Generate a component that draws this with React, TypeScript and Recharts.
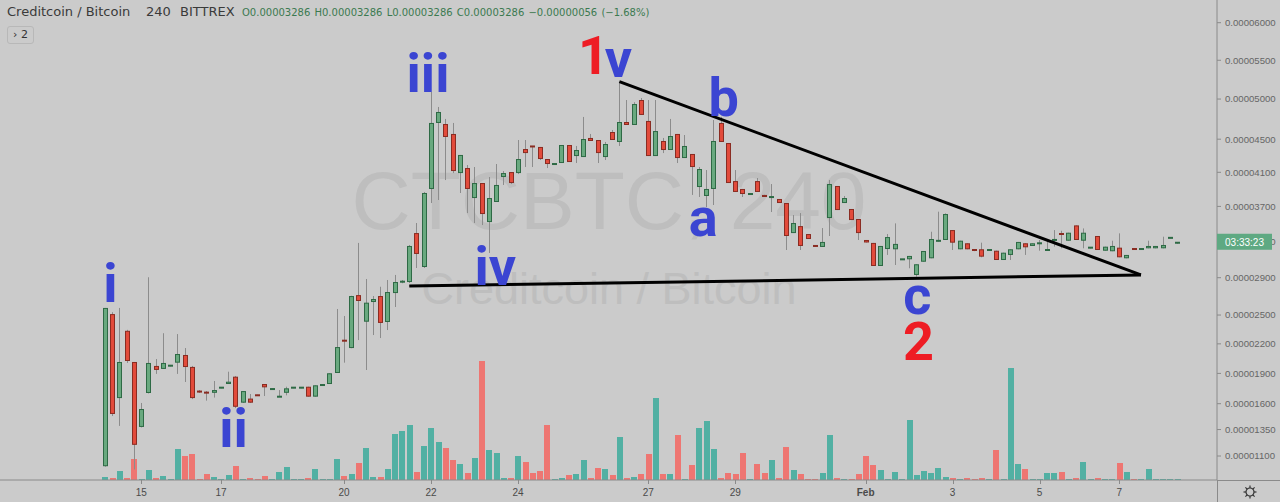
import React from 'react';
import { ComposedChart, Bar, XAxis, YAxis, ReferenceLine, ReferenceDot } from 'recharts';

// Prices are in satoshi (0.00000001 BTC), one candle = 4 hours
const opens = [1005,2510,1655,2335,2015,1375,1705,1975,1945,1975,2008,2086,1965,1724,1717,1707,1755,1794,1867,1610,1650,1685,1794,1742,1667,1707,1755,1755,1767,1669,1782,1794,1904,2235,2157,2712,2430,2638,2702,2427,2734,2846,2853,3395,3017,3903,4700,4687,4564,4091,4151,3797,3973,3520,3751,4044,4103,4091,4380,4417,4405,4259,4195,4211,4429,4295,4283,4515,4490,4283,4588,4466,4712,4675,4988,4725,4295,4478,4368,4564,4271,4320,3926,3821,3903,4700,4453,3996,3903,3840,3996,3833,3805,3786,3739,3395,3474,3384,3252,3239,3566,3938,3739,3670,3555,3317,3284,3028,3216,3213,3098,3102,2930,3075,3113,3298,3317,3429,3213,3280,3207,3213,3203,3197,3094,3150,3213,3280,3250,3278,3203,3315,3392,3309,3482,3309,3229,3362,3197,3191,3231,3113,3218,3214,3224,3224,3224,3340,3286];
const highs = [2575,2530,2575,2345,2015,1607,2905,2045,2310,1985,2301,2157,1975,1734,1725,1824,1762,1917,1874,1724,1695,1688,1794,1748,1734,1767,1762,1762,1767,1781,1788,1901,2564,2490,2705,3284,2886,2702,2802,2875,2930,2875,3261,3509,3868,5090,4900,4750,4700,4308,4187,4163,3973,4044,4199,4115,4103,4490,4490,4417,4405,4259,4205,4429,4429,4417,4775,4564,4490,4466,4613,5218,4988,4960,5013,4988,4988,4515,4750,4564,4551,4320,4163,4127,4737,4775,4453,4127,3903,3848,4032,3835,3961,3786,3739,3600,3623,3384,3252,3452,4008,3938,3821,3670,3555,3317,3284,3250,3384,3505,3105,3139,3047,3194,3410,3639,3620,3429,3309,3280,3213,3287,3207,3197,3175,3213,3295,3280,3280,3317,3317,3429,3421,3399,3482,3448,3233,3362,3242,3309,3392,3150,3218,3218,3309,3250,3354,3350,3286];
const lows = [1000,1480,1385,2005,975,1370,1700,1895,1945,1970,1895,1814,1645,1705,1630,1660,1752,1794,1557,1607,1607,1678,1675,1740,1667,1682,1753,1753,1669,1669,1780,1794,1904,2008,2155,2239,1934,2291,2260,2343,2585,2840,2842,3006,3006,3739,3774,4008,4091,3856,3623,3509,3486,3172,3751,3950,3961,4079,4163,4163,4247,4151,4195,4211,4223,4211,4283,4478,4211,4247,4490,4417,4675,4675,4800,4295,4295,4331,4368,4211,4271,3833,3809,3693,3716,4466,3973,3868,3809,3838,3868,3809,3635,3739,3205,3395,3205,3328,3248,3239,3362,3658,3739,3543,3317,3289,3028,3028,3150,3039,3096,3003,2911,3075,3113,3298,3317,3205,3213,3213,3192,3124,3203,3094,3094,3094,3213,3150,3250,3197,3203,3243,3224,3309,3317,3224,3229,3205,3197,3191,3124,3113,3214,3214,3224,3224,3224,3338,3286];
const closes = [2575,1500,2015,2025,1205,1548,2005,1935,2005,1980,2096,1964,1655,1714,1700,1734,1760,1817,1570,1724,1610,1680,1761,1746,1670,1751,1760,1760,1669,1781,1786,1901,2167,2230,2702,2649,2631,2670,2417,2745,2853,2867,3250,3161,3856,4700,4837,4527,4115,4308,3903,3973,3612,3797,3950,4091,3973,4259,4331,4405,4259,4199,4203,4429,4223,4368,4502,4478,4331,4441,4490,4712,4675,4937,4800,4295,4600,4368,4539,4271,4417,4163,4139,3903,4478,4466,3973,3868,3844,3848,3868,3809,3812,3739,3362,3509,3250,3328,3248,3295,3961,3658,3797,3543,3395,3289,3028,3250,3350,3273,3105,3139,3047,3194,3328,3317,3612,3287,3309,3213,3203,3131,3207,3094,3175,3213,3295,3235,3280,3282,3207,3320,3377,3399,3317,3399,3233,3205,3242,3250,3124,3150,3214,3218,3250,3250,3261,3342,3286];
const volumes = [3,2,9,2,21,1,10,2,4,1,31,24,26,1,6,3,1,5,14,1,2,1,4,1,8,13,1,1,2,11,1,1,21,4,6,17,32,3,3,11,46,49,55,8,34,52,38,32,20,16,7,22,119,30,27,2,2,24,18,7,9,55,1,2,5,6,20,2,12,11,5,43,2,3,6,26,82,6,6,45,1,15,52,59,31,2,7,6,27,1,16,7,20,2,33,10,6,1,1,7,45,2,1,1,6,24,15,10,1,8,1,60,5,9,7,12,3,2,1,2,1,2,1,30,1,112,16,11,1,1,7,7,8,1,2,18,1,2,1,1,17,8,1,1,11,1,1,1,1];

const dateLabels = ['15', '17', '20', '22', '24', '27', '29', 'Feb', '3', '5', '7'];
const dateCandleIndex = [5, 16, 33, 45, 57, 75, 87, 105, 117, 129, 140];
const priceTicks = [6000, 5500, 5000, 4500, 4100, 3700, 3300, 2900, 2500, 2200, 1900, 1600, 1350, 1100];
const priceRange = [878, 6310];
const volumeRange = [0, 480];
const lastPrice = 3286;

// trend lines: [candle index, price]
const lowerTrend = [[42, 2810], [143, 2930]];
const upperTrend = [[71, 5222], [143, 2930]];

// wave labels: text, candle index, price at baseline, colour, pixel nudge
const waveText = ['i', 'ii', 'iii', 'iv', '1', 'v', 'b', 'a', 'c', '2'];
const waveCandle = [1, 18, 45, 54, 67, 71, 85, 83, 112, 112];
const wavePrice = [2640, 1185, 5090, 2820, 5321, 5283, 4787, 3362, 2511, 2035];
const waveRed = [false, false, false, false, true, false, false, false, false, true];
const waveNudge = [-2, -2, -3, -1, 3, -1, 3, -3, 1, 2];

const LEAD_SLOTS = 14;
const TRAIL_SLOTS = 5;
const LOG_OFFSET = 9855; // price axis is logarithmic in (price + offset)

const GREEN_BODY = '#69a97f';
const GREEN_EDGE = '#2e6a45';
const RED_BODY = '#e24b3b';
const RED_EDGE = '#8a2c22';
const WICK = '#8c8c8c';
const VOL_UP = '#52b0a3';
const VOL_DOWN = '#ee7672';
const BLUE = '#3b45d2';
const RED = '#ee1c24';
const BG = '#cbcbcb';
const AXIS = '#8a8a8a';
const SANS = '"Liberation Sans", Arial, sans-serif';

const data = Array.from({ length: LEAD_SLOTS + opens.length + TRAIL_SLOTS }, (_, slot) => {
  const k = slot - LEAD_SLOTS;
  if (k < 0 || k >= opens.length) return { slot };
  const o = opens[k], h = highs[k], l = lows[k], c = closes[k];
  return {
    slot,
    open: o, high: h, low: l, close: c,
    up: c >= o,
    wick: [l + LOG_OFFSET, h + LOG_OFFSET],
    body: [Math.min(o, c) + LOG_OFFSET, Math.max(o, c) + LOG_OFFSET],
    vol: volumes[k],
  };
});

const priceDomain = [priceRange[0] + LOG_OFFSET, priceRange[1] + LOG_OFFSET];

const WickShape = (p: any) => {
  const { x, y, width, height, payload } = p;
  if (!payload || payload.open == null || !isFinite(y) || !isFinite(height)) return null;
  const cx = Math.round(x + width / 2) + 0.5;
  const top = Math.min(y, y + height);
  const bot = Math.max(y, y + height);
  return <line x1={cx} x2={cx} y1={top} y2={Math.max(bot, top + 1)} stroke={WICK} strokeWidth={1} />;
};

const BodyShape = (p: any) => {
  const { x, y, width, height, payload } = p;
  if (!payload || payload.open == null || !isFinite(y) || !isFinite(height)) return null;
  const c = Math.round(x + width / 2);
  const top = Math.min(y, y + height);
  const bot = Math.max(y, y + height);
  const fill = payload.up ? GREEN_BODY : RED_BODY;
  const edge = payload.up ? GREEN_EDGE : RED_EDGE;
  if (bot - top < 2) {
    const m = (top + bot) / 2;
    return <rect x={c - 2} y={m - 1} width={5} height={2} fill={edge} />;
  }
  return <rect x={c - 1.5} y={top + 0.5} width={4} height={bot - top - 1} fill={fill} stroke={edge} strokeWidth={1} />;
};

const VolShape = (p: any) => {
  const { x, y, width, height, payload } = p;
  if (!payload || payload.vol == null || !isFinite(y) || !isFinite(height) || height <= 0) return null;
  const c = Math.round(x + width / 2);
  return <rect x={c - 3} y={y} width={6} height={height} fill={payload.up ? VOL_UP : VOL_DOWN} />;
};

const DateTick = (props: any) => {
  const { x, y, payload } = props;
  const k = Number(payload.value) - LEAD_SLOTS;
  const i = dateCandleIndex.indexOf(k);
  if (i < 0) return null;
  const px = Math.round(x) + 0.5;
  return (
    <g>
      <line x1={px} x2={px} y1={y} y2={y + 4} stroke={AXIS} />
      <text x={x} y={y + 16} textAnchor="middle" fontSize={10} fill="#4a4a4a" fontFamily={SANS}
        fontWeight={dateLabels[i] === 'Feb' ? 'bold' : 'normal'}>{dateLabels[i]}</text>
    </g>
  );
};

const PriceBox = (props: any) => {
  const vb = props.viewBox;
  if (!vb) return null;
  const x0 = vb.x + vb.width;
  const yc = vb.y;
  return (
    <g>
      <rect x={x0} y={yc - 9} width={55} height={16} fill="#5ea982" />
      <text x={x0 + 27.5} y={yc + 3} textAnchor="middle" fill="#ffffff" fontSize={10} fontFamily={SANS}>03:33:23</text>
    </g>
  );
};

const makeWaveShape = (i: number) => (p: any) => (
  <text x={p.cx + waveNudge[i]} y={p.cy} textAnchor="middle" fill={waveRed[i] ? RED : BLUE}
    fontSize={54} fontWeight="bold" fontFamily="Roboto, Arial, sans-serif">{waveText[i]}</text>
);

export default function App() {
  return (
    <div style={{ position: 'absolute', left: 0, top: 0, width: 1280, height: 502, background: BG, overflow: 'hidden' }}>
      <svg width={1280} height={502} style={{ position: 'absolute', left: 0, top: 0 }}>
        <text x={609} y={229} textAnchor="middle" fontSize={82} fill="#bebebe" fontFamily={SANS}>CTCBTC, 240</text>
        <text x={609} y={304} textAnchor="middle" fontSize={45} fill="#bebebe" fontFamily={SANS}>Creditcoin / Bitcoin</text>
      </svg>
      <div style={{ position: 'absolute', left: 0, top: 0 }}>
        <ComposedChart width={1280} height={502} data={data} margin={{ top: 0, right: 0, bottom: 0, left: 0 }}>
          <XAxis xAxisId="x" dataKey="slot" type="category" interval={0} tick={<DateTick />} tickLine={false}
            tickSize={0} tickMargin={0} height={22} axisLine={{ stroke: AXIS }} />
          <XAxis xAxisId="xb" dataKey="slot" type="category" hide />
          <XAxis xAxisId="xv" dataKey="slot" type="category" hide />
          <YAxis yAxisId="price" orientation="right" scale="log" width={63}
            domain={priceDomain} allowDataOverflow
            ticks={priceTicks.map((t) => t + LOG_OFFSET)} interval={0}
            tickFormatter={(v: number) => ((v - LOG_OFFSET) / 1e8).toFixed(8)}
            tick={{ fill: '#666666', fontSize: 9.6, fontFamily: SANS }} tickSize={4} tickMargin={4}
            axisLine={{ stroke: AXIS }} tickLine={{ stroke: AXIS }} />
          <YAxis yAxisId="vol" hide domain={volumeRange} allowDataOverflow />
          <Bar xAxisId="xv" yAxisId="vol" dataKey="vol" barSize={6} shape={<VolShape />} isAnimationActive={false} />
          <Bar xAxisId="x" yAxisId="price" dataKey="wick" barSize={5} shape={<WickShape />} isAnimationActive={false} />
          <Bar xAxisId="xb" yAxisId="price" dataKey="body" barSize={5} shape={<BodyShape />} isAnimationActive={false} />
          <ReferenceLine xAxisId="x" yAxisId="price" ifOverflow="visible" stroke="#000" strokeWidth={3}
            segment={lowerTrend.map(([k, p]) => ({ x: k + LEAD_SLOTS, y: p + LOG_OFFSET }))} />
          <ReferenceLine xAxisId="x" yAxisId="price" ifOverflow="visible" stroke="#000" strokeWidth={3}
            segment={upperTrend.map(([k, p]) => ({ x: k + LEAD_SLOTS, y: p + LOG_OFFSET }))} />
          {waveText.map((t, i) => (
            <ReferenceDot key={i} xAxisId="x" yAxisId="price" x={waveCandle[i] + LEAD_SLOTS}
              y={wavePrice[i] + LOG_OFFSET} r={0} ifOverflow="visible" shape={makeWaveShape(i)} />
          ))}
        </ComposedChart>
      </div>
      {/* last-price marker drawn on top of the price scale */}
      <div style={{ position: 'absolute', left: 0, top: 0, pointerEvents: 'none' }}>
        <ComposedChart width={1280} height={502} data={data} margin={{ top: 0, right: 63, bottom: 22, left: 0 }}>
          <XAxis xAxisId="x" dataKey="slot" type="category" hide />
          <YAxis yAxisId="price" scale="log" domain={priceDomain} allowDataOverflow hide />
          <ReferenceLine xAxisId="x" yAxisId="price" y={lastPrice + LOG_OFFSET} stroke="none" ifOverflow="visible"
            label={<PriceBox />} />
        </ComposedChart>
      </div>
      <svg width={1280} height={502} style={{ position: 'absolute', left: 0, top: 0, pointerEvents: 'none' }}>
        <line x1={1217.5} x2={1217.5} y1={480} y2={502} stroke={AXIS} />
        <line x1={1217} x2={1280} y1={480.5} y2={480.5} stroke={AXIS} />
        <g transform="translate(1250,492)" stroke="#333" fill="none" strokeWidth={1.2}>
          <circle r={4} />
          {[0, 45, 90, 135, 180, 225, 270, 315].map((a) => (
            <line key={a} x1={0} y1={-4} x2={0} y2={-6.5} transform={`rotate(${a})`} />
          ))}
        </g>
      </svg>
      <div style={{ position: 'absolute', left: 7, top: 4, fontFamily: '"DejaVu Sans", Verdana, sans-serif', fontSize: 13, color: '#3a3a3a', whiteSpace: 'nowrap' }}>
        Creditcoin / Bitcoin
      </div>
      <div style={{ position: 'absolute', left: 146, top: 4, fontFamily: '"DejaVu Sans", Verdana, sans-serif', fontSize: 13, color: '#3a3a3a' }}>240</div>
      <div style={{ position: 'absolute', left: 180, top: 4, fontFamily: '"DejaVu Sans", Verdana, sans-serif', fontSize: 13, color: '#3a3a3a' }}>BITTREX</div>
      <div style={{ position: 'absolute', left: 242, top: 7, fontFamily: '"DejaVu Sans", Verdana, sans-serif', fontSize: 10, color: '#3b7a50', whiteSpace: 'nowrap', wordSpacing: 1 }}>
        O0.00003286 H0.00003286 L0.00003286 C0.00003286 −0.00000056 (−1.68%)
      </div>
      <div style={{ position: 'absolute', left: 7, top: 26, width: 27, height: 18, border: '1px solid #b8b8b8', borderRadius: 3, boxSizing: 'border-box', fontFamily: '"DejaVu Sans", Verdana, sans-serif', fontSize: 11, color: '#333', lineHeight: '16px', textAlign: 'center' }}>
        › 2
      </div>
    </div>
  );
}
